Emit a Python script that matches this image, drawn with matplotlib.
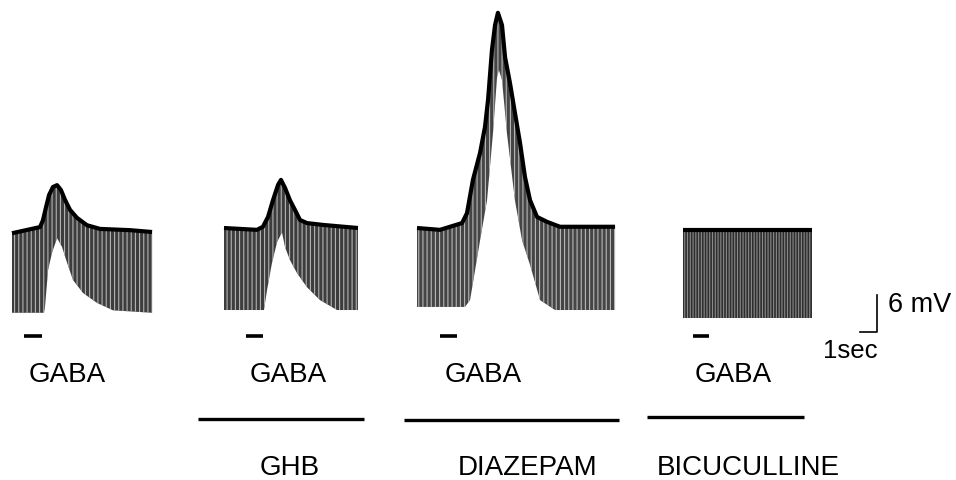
import matplotlib
matplotlib.use("Agg")
import matplotlib.pyplot as plt
import numpy as np

plt.rcParams['font.family'] = ['Liberation Sans', 'DejaVu Sans']
plt.rcParams['hatch.linewidth'] = 0.8

# ---------------- data (time in s, voltage in mV, relative to resting level) ----
conditions = ["Control", "GHB", "DIAZEPAM", "BICUCULLINE"]

# Control: upper envelope (membrane potential) and lower envelope (pulse responses)
t_top_ctrl = [0, 1.65, 1.82, 2.0, 2.18, 2.41, 2.65, 2.88, 3.12, 3.41, 3.82, 4.41, 5.18, 6.94, 8.24]
v_top_ctrl = [-0.2, 0.8, 1.9, 4.0, 6.0, 7.3, 7.6, 6.8, 5.2, 3.6, 2.3, 1.1, 0.5, 0.3, 0.0]
t_bot_ctrl = [0, 1.88, 1.94, 2.12, 2.35, 2.65, 2.94, 3.24, 3.59, 4.18, 5.0, 5.94, 8.24]
v_bot_ctrl = [-13.1, -13.1, -12.2, -6.2, -3.4, -1.0, -2.4, -5.0, -7.8, -9.9, -11.5, -12.7, -13.1]

# GHB
t_top_ghb = [0, 1.94, 2.29, 2.59, 2.88, 3.18, 3.35, 3.59, 3.88, 4.18, 4.47, 4.88, 5.82, 7.88]
v_top_ghb = [0.0, -0.3, 0.2, 1.8, 4.5, 7.0, 7.8, 6.5, 4.5, 2.9, 1.3, 0.8, 0.5, 0.0]
t_bot_ghb = [0, 2.35, 2.53, 2.82, 3.12, 3.41, 3.59, 3.88, 4.29, 4.88, 5.65, 6.65, 7.88]
v_bot_ghb = [-13.3, -13.3, -10.1, -5.7, -2.3, -0.7, -3.1, -5.2, -7.3, -9.6, -11.7, -13.3, -13.3]

# Diazepam
t_top_dzp = [0, 1.35, 2.65, 2.94, 3.29, 3.71, 4.0, 4.18, 4.41, 4.59, 4.76, 5.0, 5.18, 5.47,
             5.76, 6.06, 6.35, 6.65, 7.06, 7.65, 8.41, 11.65]
v_top_dzp = [0.0, -0.3, 0.8, 2.4, 7.8, 12.2, 16.4, 20.8, 28.9, 32.9, 34.9, 32.9, 27.7, 23.5,
             18.7, 13.8, 8.3, 4.5, 1.8, 1.0, 0.2, 0.2]
t_bot_dzp = [0, 2.82, 3.12, 3.71, 4.12, 4.47, 4.71, 4.82, 5.0, 5.29, 5.76, 6.18, 6.65, 7.24,
             8.12, 11.65]
v_bot_dzp = [-12.8, -12.8, -11.7, -2.0, 4.5, 15.4, 24.5, 25.6, 24.0, 15.4, 4.5, -2.0, -6.0,
             -11.7, -13.3, -13.3]

# Bicuculline: no GABA response
t_top_bic = [0, 7.59]
v_top_bic = [0.0, 0.0]
t_bot_bic = [0, 7.59]
v_bot_bic = [-14.3, -14.3]

gaba_on = [0.71, 1.29, 1.35, 0.59]     # s, relative to trace start
gaba_off = [1.76, 2.29, 2.35, 1.53]

scale_mv = 6
scale_s = 1

# ---------------- layout (pixels) -----------------------------------------------
W, H = 956, 480
PX_PER_S = 17.0
PX_PER_MV = 37.0 / 6.0
x0s = [12, 224, 417, 683]
y0s = [232, 228, 228, 230]
gaba_y = 336
face_cols = ['#3d3d3d', '#3d3d3d', '#454545', '#2e2e2e']
hatch_cols = ['#b4b4b4', '#b4b4b4', '#b8b8b8', '#8a8a8a']
hatch_pat = ['||||', '||||', '||||', '||||||']

traces = [
    (t_top_ctrl, v_top_ctrl, t_bot_ctrl, v_bot_ctrl),
    (t_top_ghb, v_top_ghb, t_bot_ghb, v_bot_ghb),
    (t_top_dzp, v_top_dzp, t_bot_dzp, v_bot_dzp),
    (t_top_bic, v_top_bic, t_bot_bic, v_bot_bic),
]

fig = plt.figure(figsize=(W / 100, H / 100), dpi=100)
ax = fig.add_axes([0, 0, 1, 1])
ax.set_xlim(0, W)
ax.set_ylim(H, 0)
ax.axis('off')


def px(x0, t):
    return x0 + np.asarray(t, float) * PX_PER_S


def py(y0, v):
    return y0 - np.asarray(v, float) * PX_PER_MV


for i, (tt, vt, tb, vb) in enumerate(traces):
    x0, y0 = x0s[i], y0s[i]
    # union of the measured time points, to fill between the two envelopes
    grid = np.unique(np.concatenate([tt, tb]))
    top = np.interp(grid, tt, vt)
    bot = np.interp(grid, tb, vb)
    X = px(x0, grid)
    ax.fill_between(X, py(y0, bot), py(y0, top), facecolor=face_cols[i],
                    edgecolor='none', linewidth=0, zorder=2)
    ax.fill_between(X, py(y0, bot), py(y0, top), facecolor='none',
                    edgecolor=hatch_cols[i], hatch=hatch_pat[i], linewidth=0, zorder=3)
    ax.plot(px(x0, tt), py(y0, vt), color='black', lw=3.0,
            solid_joinstyle='round', solid_capstyle='butt', zorder=4)
    # GABA application bar
    ax.plot(px(x0, [gaba_on[i], gaba_off[i]]), [gaba_y, gaba_y],
            color='black', lw=2.6, solid_capstyle='butt', zorder=4)

# GABA labels
for xc in [67, 288, 483, 733]:
    ax.text(xc, 382, "GABA", ha='center', va='baseline', fontsize=20)

# drug application lines and labels
drug_lines = [(198, 364, 419), (404, 619, 420), (647, 804, 417)]
for xa, xb, yy in drug_lines:
    ax.plot([xa, xb], [yy, yy], color='black', lw=2.4, solid_capstyle='butt')
for xc, name in zip([290, 528, 748], conditions[1:]):
    ax.text(xc, 475, name, ha='center', va='baseline', fontsize=20)

# scale bar
sx, sy = 877, 332
ax.plot([sx - scale_s * PX_PER_S, sx, sx],
        [sy, sy, sy - scale_mv * PX_PER_MV], color='black', lw=1.2)
ax.text(888, 312, "6 mV", ha='left', va='baseline', fontsize=19.5)
ax.text(823, 358, "1sec", ha='left', va='baseline', fontsize=18.5)

fig.savefig("out.png", dpi=100, facecolor='white')
